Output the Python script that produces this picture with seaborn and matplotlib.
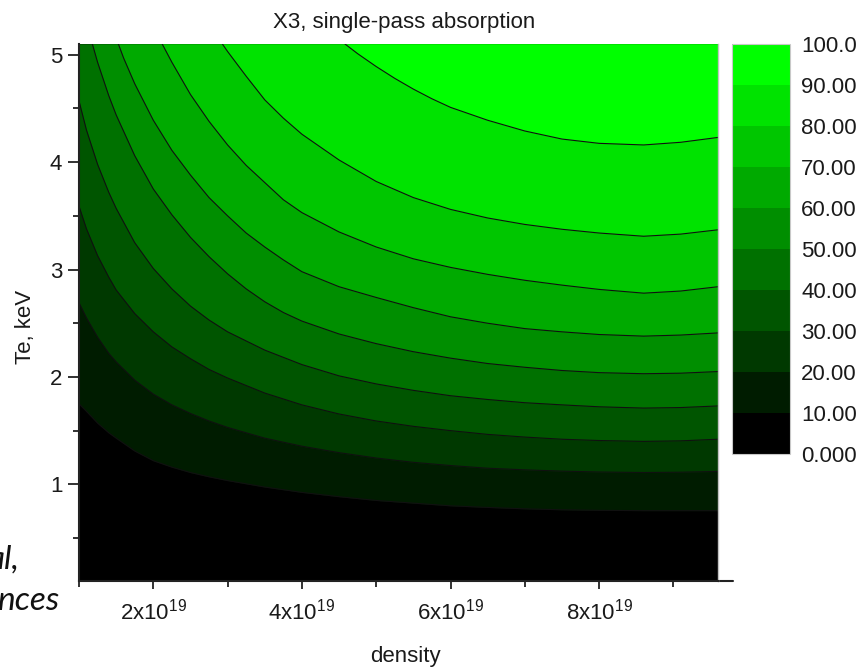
import numpy as np
import pandas as pd
import matplotlib
matplotlib.use("Agg")
import matplotlib.pyplot as plt
from matplotlib.colors import ListedColormap, BoundaryNorm
from matplotlib.cm import ScalarMappable
from matplotlib.lines import Line2D
from matplotlib.ticker import FixedLocator, FuncFormatter
import seaborn as sns

# Absorption levels (%) and the fill colour of each band
levels = [0, 10, 20, 30, 40, 50, 60, 70, 80, 90, 100]
level_labels = ["0.000", "10.00", "20.00", "30.00", "40.00", "50.00",
                "60.00", "70.00", "80.00", "90.00", "100.0"]
band_colors = ["#000000", "#001c00", "#003900", "#005500", "#007100",
               "#008e00", "#00aa00", "#00c600", "#00e300", "#00ff00"]

# Contour lines: Te (keV) versus density (units of 1e19) for each level
n_10 = [1.0, 1.1, 1.25, 1.4, 1.5, 1.75, 2.0, 2.25, 2.5, 2.75, 3.0, 3.5, 4.0, 4.5,
        5.0, 5.5, 6.0, 6.5, 7.0, 7.5, 8.0, 8.6, 9.1, 9.6]
te_10 = [1.75, 1.68, 1.57, 1.48, 1.43, 1.31, 1.22, 1.16, 1.11, 1.07, 1.035, 0.975,
         0.925, 0.885, 0.85, 0.825, 0.80, 0.785, 0.772, 0.763, 0.758, 0.755, 0.755, 0.755]

n_20 = [1.0, 1.1, 1.25, 1.4, 1.5, 1.75, 2.0, 2.25, 2.5, 2.75, 3.0, 3.5, 4.0, 4.5,
        5.0, 5.5, 6.0, 6.5, 7.0, 7.5, 8.0, 8.6, 9.1, 9.6]
te_20 = [2.69, 2.55, 2.37, 2.22, 2.14, 1.97, 1.84, 1.74, 1.66, 1.59, 1.53, 1.43,
         1.355, 1.295, 1.245, 1.205, 1.175, 1.15, 1.135, 1.123, 1.115, 1.11, 1.113, 1.12]

n_30 = [1.0, 1.1, 1.25, 1.4, 1.5, 1.75, 2.0, 2.25, 2.5, 2.75, 3.0, 3.5, 4.0, 4.5,
        5.0, 5.5, 6.0, 6.5, 7.0, 7.5, 8.0, 8.6, 9.1, 9.6]
te_30 = [3.59, 3.38, 3.13, 2.93, 2.81, 2.59, 2.42, 2.28, 2.17, 2.07, 1.99, 1.85,
         1.74, 1.655, 1.59, 1.54, 1.50, 1.465, 1.44, 1.42, 1.408, 1.40, 1.405, 1.42]

n_40 = [1.0, 1.1, 1.25, 1.4, 1.5, 1.75, 2.0, 2.25, 2.5, 2.75, 3.0, 3.5, 4.0, 4.5,
        5.0, 5.5, 6.0, 6.5, 7.0, 7.5, 8.0, 8.6, 9.1, 9.6]
te_40 = [4.57, 4.30, 3.98, 3.72, 3.57, 3.25, 3.01, 2.82, 2.66, 2.53, 2.42, 2.25,
         2.115, 2.01, 1.935, 1.875, 1.825, 1.79, 1.76, 1.74, 1.722, 1.71, 1.715, 1.73]

n_50 = [1.18, 1.25, 1.4, 1.5, 1.75, 2.0, 2.25, 2.5, 2.75, 3.0, 3.25, 3.5, 3.75, 4.0,
        4.5, 5.0, 5.5, 6.0, 6.5, 7.0, 7.5, 8.0, 8.6, 9.1, 9.6]
te_50 = [5.1, 4.93, 4.62, 4.44, 4.06, 3.75, 3.51, 3.30, 3.12, 2.96, 2.82, 2.70, 2.60,
         2.52, 2.40, 2.31, 2.235, 2.175, 2.125, 2.09, 2.06, 2.04, 2.03, 2.035, 2.05]

n_60 = [1.53, 1.6, 1.75, 2.0, 2.25, 2.5, 2.75, 3.0, 3.25, 3.5, 3.75, 4.0, 4.5, 5.0,
        5.5, 6.0, 6.5, 7.0, 7.5, 8.0, 8.6, 9.1, 9.6]
te_60 = [5.1, 4.97, 4.73, 4.39, 4.11, 3.88, 3.67, 3.50, 3.34, 3.21, 3.09, 2.98, 2.84,
         2.74, 2.645, 2.56, 2.50, 2.45, 2.42, 2.395, 2.38, 2.39, 2.41]

n_70 = [2.12, 2.25, 2.5, 2.75, 3.0, 3.25, 3.5, 3.75, 4.0, 4.5, 5.0, 5.5, 6.0, 6.5,
        7.0, 7.5, 8.0, 8.6, 9.1, 9.6]
te_70 = [5.1, 4.93, 4.63, 4.38, 4.16, 3.97, 3.81, 3.65, 3.53, 3.35, 3.21, 3.10, 3.02,
         2.955, 2.90, 2.855, 2.815, 2.78, 2.80, 2.84]

n_80 = [2.93, 3.0, 3.25, 3.5, 3.75, 4.0, 4.5, 5.0, 5.5, 6.0, 6.5, 7.0, 7.5, 8.0,
        8.6, 9.1, 9.6]
te_80 = [5.1, 5.03, 4.80, 4.58, 4.41, 4.26, 4.02, 3.82, 3.67, 3.56, 3.48, 3.42, 3.375,
         3.34, 3.31, 3.33, 3.37]

n_90 = [4.58, 4.75, 5.0, 5.25, 5.5, 5.75, 6.0, 6.5, 7.0, 7.5, 8.0, 8.6, 9.1, 9.6]
te_90 = [5.1, 5.01, 4.89, 4.78, 4.68, 4.59, 4.51, 4.39, 4.29, 4.215, 4.175, 4.16,
         4.185, 4.23]

contours = [(10, n_10, te_10), (20, n_20, te_20), (30, n_30, te_30),
            (40, n_40, te_40), (50, n_50, te_50), (60, n_60, te_60),
            (70, n_70, te_70), (80, n_80, te_80), (90, n_90, te_90)]

x_major = [2, 4, 6, 8]
x_minor = [1, 3, 5, 7, 9]
y_major = [1, 2, 3, 4, 5]
y_minor = [0.5, 1.5, 2.5, 3.5, 4.5]

sns.set_style("ticks")
plt.rcParams["font.family"] = ["Liberation Sans", "DejaVu Sans"]
plt.rcParams["mathtext.fontset"] = "custom"
plt.rcParams["mathtext.rm"] = "Liberation Sans"
plt.rcParams["mathtext.default"] = "regular"

W, H = 862, 667
fig = plt.figure(figsize=(W / 100, H / 100), dpi=100)
ax = fig.add_axes([79 / W, 1 - 581 / H, (718 - 79) / W, (581 - 44) / H])
cax = fig.add_axes([732 / W, 1 - 454 / H, 58 / W, 410 / H])

xmin, xmax = 1.0, 9.6
ymin, ymax = 0.1, 5.1

# Filled bands: lowest band everywhere, then each band above its contour
ax.fill_between([xmin, xmax], ymin, ymax, color=band_colors[0], lw=0, zorder=1)
for k, (lvl, n, te) in enumerate(contours, start=1):
    ax.fill_between(n, te, ymax, color=band_colors[k], lw=0, zorder=1)

# Contour lines
lines = pd.concat([pd.DataFrame({"density": n, "Te": te, "level": lvl})
                   for lvl, n, te in contours], ignore_index=True)
sns.lineplot(data=lines, x="density", y="Te", units="level", estimator=None,
             sort=False, color="#101010", linewidth=0.8, legend=False, ax=ax,
             zorder=2)

ax.set_xlim(xmin, xmax)
ax.set_ylim(ymin, ymax)

# Axes styling
for side in ("left", "bottom"):
    ax.spines[side].set_color("#222222")
    ax.spines[side].set_linewidth(1.5)
ax.spines["top"].set_visible(False)
ax.spines["right"].set_color("#c0c0c0")
ax.spines["right"].set_linewidth(1.0)
ax.add_line(Line2D([1, 1 + 15 / 639], [0, 0], transform=ax.transAxes,
                   color="#222222", lw=1.5, clip_on=False))

ax.xaxis.set_major_locator(FixedLocator(x_major))
ax.xaxis.set_minor_locator(FixedLocator(x_minor))
ax.yaxis.set_major_locator(FixedLocator(y_major))
ax.yaxis.set_minor_locator(FixedLocator(y_minor))
ax.xaxis.set_major_formatter(FuncFormatter(lambda v, p: f"{v:g}x10$^{{19}}$"))
ax.yaxis.set_major_formatter(FuncFormatter(lambda v, p: f"{v:g}"))
ax.tick_params(axis="x", which="major", direction="out", length=6, width=1.3,
               color="#222222", labelsize=16, labelcolor="#1a1a1a", pad=7)
ax.tick_params(axis="y", which="major", direction="out", length=8, width=1.3,
               color="#222222", labelsize=16, labelcolor="#1a1a1a", pad=4)
ax.tick_params(which="minor", direction="out", length=4, width=1.3,
               color="#222222")

ax.set_xlabel("density", fontsize=16, color="#1a1a1a")
ax.set_ylabel("Te, keV", fontsize=16, color="#1a1a1a")
ax.xaxis.set_label_coords(0.511, -0.121)
ax.yaxis.set_label_coords(-0.068, 0.473)

fig.text(404 / W, 1 - 28 / H, "X3, single-pass absorption", ha="center",
         va="baseline", fontsize=16, color="#1a1a1a")

# Colour scale
cmap = ListedColormap(band_colors)
norm = BoundaryNorm(levels, cmap.N)
cb = fig.colorbar(ScalarMappable(norm=norm, cmap=cmap), cax=cax, ticks=levels)
cb.ax.set_yticklabels(level_labels)
cb.ax.tick_params(length=0, pad=8, labelsize=16, labelcolor="#1a1a1a")
cb.outline.set_edgecolor("#c8c8c8")
cb.outline.set_linewidth(0.8)

# Slide text running in from the left edge
fig.text(19 / W, 1 - 569 / H, "al,", ha="right", va="baseline", fontsize=24,
         style="italic", family=["Lato", "DejaVu Sans"], color="#111111")
fig.text(59 / W, 1 - 610 / H, "nces", ha="right", va="baseline", fontsize=24,
         style="italic", family=["Lato", "DejaVu Sans"], color="#111111")

fig.savefig("out.png", dpi=100, facecolor="white")
